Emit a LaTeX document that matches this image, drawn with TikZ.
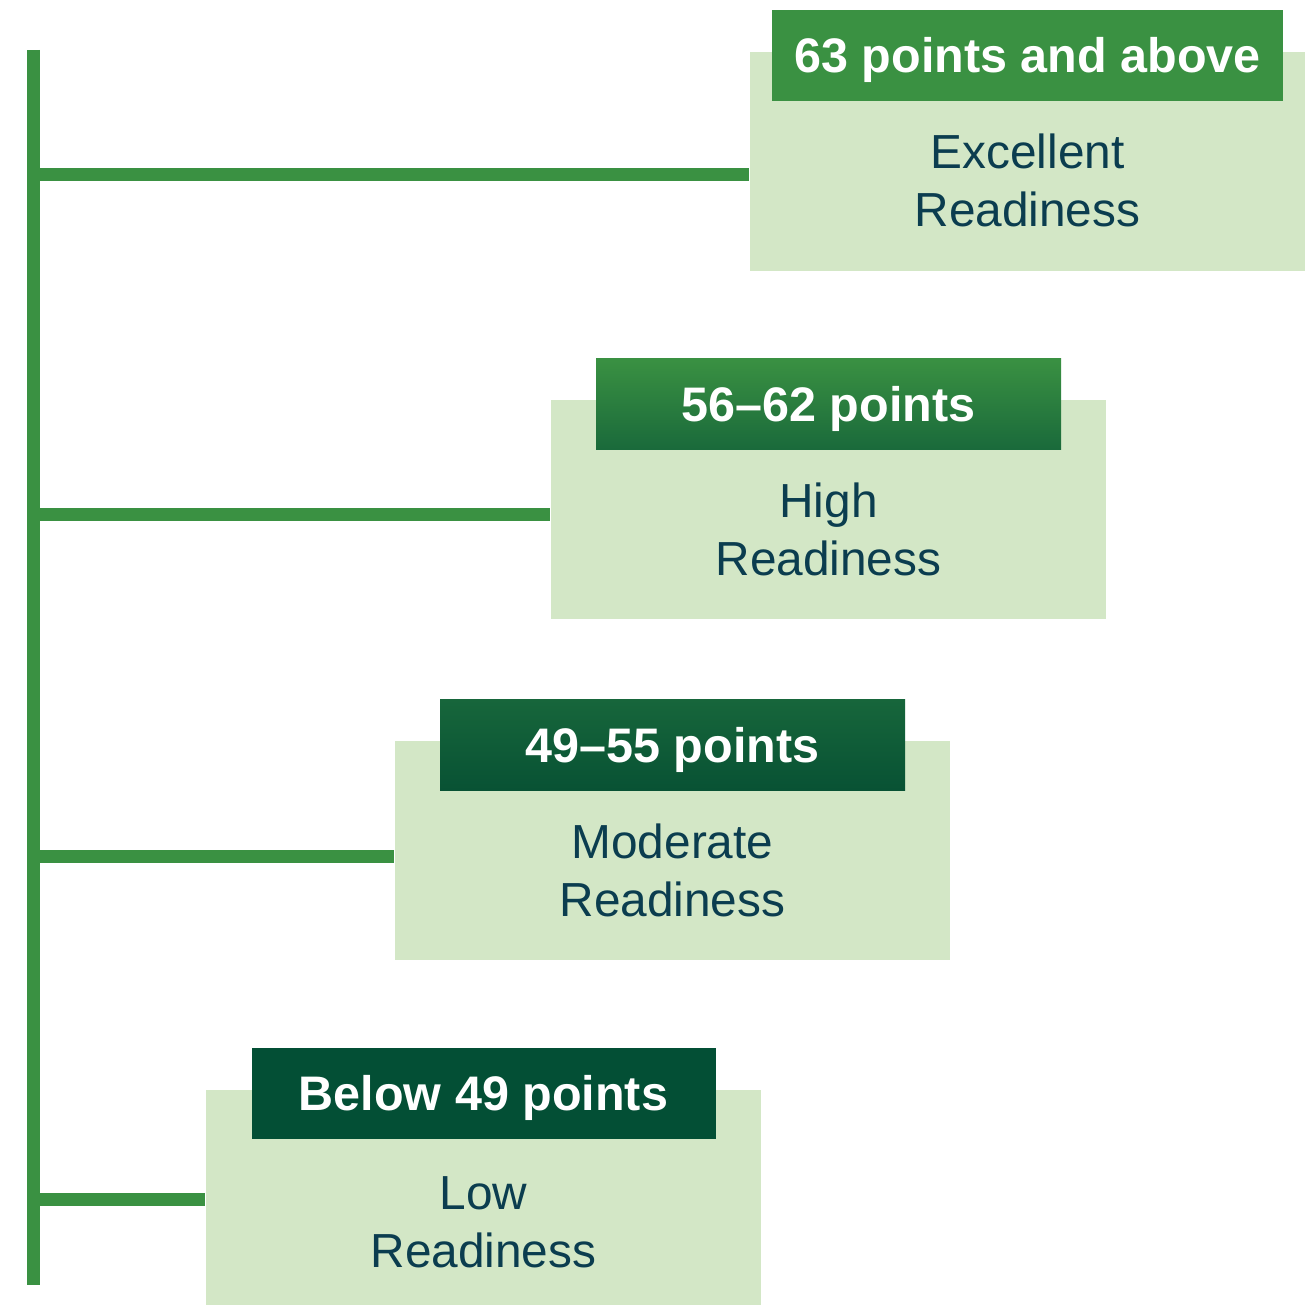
\documentclass[tikz,border=0pt]{standalone}
\usepackage{fontspec}
\setmainfont{Liberation Sans}
\usepackage{tikz}
\usetikzlibrary{positioning,calc}
\definecolor{stemgreen}{HTML}{3A9142}
\definecolor{palegreen}{HTML}{D3E7C6}
\definecolor{midgreen}{HTML}{1A6A3B}
\definecolor{deepgreen}{HTML}{17663B}
\definecolor{darkgreen}{HTML}{085234}
\definecolor{forestgreen}{HTML}{034F35}
\definecolor{inkblue}{HTML}{0B3D4F}

\begin{document}
\begin{tikzpicture}[
  level/.style={fill=palegreen,minimum width=5.55cm,minimum height=2.19cm,inner sep=0pt},
  score/.style={minimum height=0.91cm,inner sep=0pt,text height=0.35cm,text depth=0pt,text=white,font=\fontsize{13.8}{16}\selectfont\bfseries},
  desc/.style={align=center,text=inkblue,font=\fontsize{13.6}{16.5}\selectfont},
  stem/.style={stemgreen,line width=0.13cm},
  node distance=0.5cm
]
\useasboundingbox (0,0) rectangle (13.15,-13.05);

% spine
\coordinate (top) at (0.335,-0.50);
\coordinate (bot) at (0.335,-12.85);
\draw[stem] (top) -- (bot);

% excellent
\node[level] (ex) at (10.275,-1.615) {};
\node[score,fill=stemgreen,minimum width=5.11cm,above=-0.5cm of ex.north] (exh) {63 points and above};
\node[desc] (ext) at ([yshift=-0.19cm]ex.center) {Excellent\\Readiness};

% high
\node[level] (hi) at (8.285,-5.10) {};
\node[score,top color=stemgreen,bottom color=midgreen,minimum width=4.65cm,above=-0.5cm of hi.north] (hih) {56--62 points};
\node[desc] (hit) at ([yshift=-0.19cm]hi.center) {High\\Readiness};

% moderate
\node[level] (mo) at (6.725,-8.51) {};
\node[score,top color=deepgreen,bottom color=darkgreen,minimum width=4.65cm,above=-0.5cm of mo.north] (moh) {49--55 points};
\node[desc] (mot) at ([yshift=-0.19cm]mo.center) {Moderate\\Readiness};

% low
\node[level,minimum height=2.28cm] (lo) at (4.835,-12.04) {};
\node[score,fill=forestgreen,minimum width=4.64cm,above=-0.5cm of lo.north] (loh) {Below 49 points};
\node[desc] (lot) at ([yshift=-0.18cm]lo.center) {Low\\Readiness};

% branches
\coordinate (b1) at (0.40,-1.745);
\coordinate (b2) at (0.40,-5.15);
\coordinate (b3) at (0.40,-8.57);
\coordinate (b4) at (0.40,-12.00);
\draw[stem] (b1) -- (b1 -| ex.west);
\draw[stem] (b2) -- (b2 -| hi.west);
\draw[stem] (b3) -- (b3 -| mo.west);
\draw[stem] (b4) -- (b4 -| lo.west);
\end{tikzpicture}
\end{document}
